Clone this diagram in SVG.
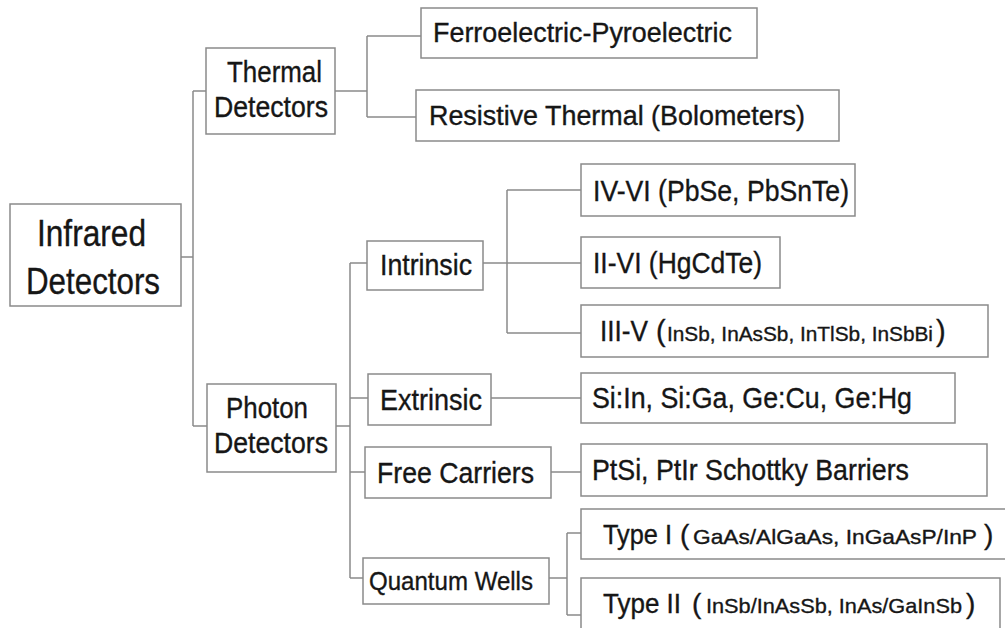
<svg xmlns="http://www.w3.org/2000/svg" width="1005" height="628" viewBox="0 0 1005 628">
<style>
.box{fill:#fff;stroke:#8a8a8a;stroke-width:1.5}
.t{font-family:"Liberation Sans",Arial,sans-serif;fill:#161616;stroke:#161616;stroke-width:0.35}
.conn{fill:none;stroke:#8a8a8a;stroke-width:1.5}
</style>
<rect width="1005" height="628" fill="#fff"/>
<g id="connectors" class="conn">
<path d="M181,257H193M193,91V426M193,91H206M193,426H207"/>
<path d="M335,91H367M367,36V117M367,36H421M367,117H416"/>
<path d="M336,426H350M350,263V578M350,263H367M350,398H368M350,472H365M350,578H363"/>
<path d="M483,263H581M507,190V333M507,190H581M507,333H581"/>
<path d="M491,398H581M551,472H581"/>
<path d="M549,578H567M567,533V615M567,533H581M567,615H581"/>
</g>
<g id="infrared">
<rect class="box" x="10" y="204" width="171" height="102"/>
<text class="t" x="37" y="246" font-size="36" textLength="109" lengthAdjust="spacingAndGlyphs">Infrared</text>
<text class="t" x="26" y="294" font-size="36" textLength="134" lengthAdjust="spacingAndGlyphs">Detectors</text>
</g>
<g id="thermal">
<rect class="box" x="206" y="48" width="129" height="86"/>
<text class="t" x="227" y="82" font-size="29" textLength="95" lengthAdjust="spacingAndGlyphs">Thermal</text>
<text class="t" x="214" y="117" font-size="29" textLength="114" lengthAdjust="spacingAndGlyphs">Detectors</text>
</g>
<g id="photon">
<rect class="box" x="207" y="384" width="129" height="88"/>
<text class="t" x="226" y="418" font-size="29" textLength="82" lengthAdjust="spacingAndGlyphs">Photon</text>
<text class="t" x="214" y="453" font-size="29" textLength="114" lengthAdjust="spacingAndGlyphs">Detectors</text>
</g>
<g id="ferro">
<rect class="box" x="421" y="8" width="336" height="50"/>
<text class="t" x="433" y="42" font-size="27" textLength="299" lengthAdjust="spacingAndGlyphs">Ferroelectric-Pyroelectric</text>
</g>
<g id="resistive">
<rect class="box" x="416" y="90" width="423" height="51"/>
<text class="t" x="429" y="125" font-size="27" textLength="376" lengthAdjust="spacingAndGlyphs">Resistive Thermal (Bolometers)</text>
</g>
<g id="intrinsic">
<rect class="box" x="367" y="241" width="116" height="49"/>
<text class="t" x="380" y="275" font-size="29" textLength="92" lengthAdjust="spacingAndGlyphs">Intrinsic</text>
</g>
<g id="iv-vi">
<rect class="box" x="581" y="164" width="274" height="52"/>
<text class="t" x="593" y="201" font-size="29" textLength="256" lengthAdjust="spacingAndGlyphs">IV-VI (PbSe, PbSnTe)</text>
</g>
<g id="ii-vi">
<rect class="box" x="581" y="237" width="199" height="51"/>
<text class="t" x="593" y="273" font-size="29" textLength="169" lengthAdjust="spacingAndGlyphs">II-VI (HgCdTe)</text>
</g>
<g id="iii-v">
<rect class="box" x="581" y="305" width="407" height="52"/>
<text class="t" x="600" y="341" font-size="29" textLength="48" lengthAdjust="spacingAndGlyphs">III-V</text>
<text class="t" x="656" y="341" font-size="29">(</text>
<text class="t" x="667" y="341" font-size="20" textLength="266" lengthAdjust="spacingAndGlyphs">InSb, InAsSb, InTlSb, InSbBi</text>
<text class="t" x="936" y="341" font-size="29">)</text>
</g>
<g id="extrinsic">
<rect class="box" x="368" y="374" width="123" height="51"/>
<text class="t" x="380" y="410" font-size="29" textLength="102" lengthAdjust="spacingAndGlyphs">Extrinsic</text>
</g>
<g id="siin">
<rect class="box" x="581" y="373" width="374" height="50"/>
<text class="t" x="592" y="408" font-size="29" textLength="320" lengthAdjust="spacingAndGlyphs">Si:In, Si:Ga, Ge:Cu, Ge:Hg</text>
</g>
<g id="free-carriers">
<rect class="box" x="365" y="447" width="186" height="51"/>
<text class="t" x="377" y="483" font-size="29" textLength="157" lengthAdjust="spacingAndGlyphs">Free Carriers</text>
</g>
<g id="ptsi">
<rect class="box" x="581" y="444" width="406" height="52"/>
<text class="t" x="592" y="480" font-size="29" textLength="317" lengthAdjust="spacingAndGlyphs">PtSi, PtIr Schottky Barriers</text>
</g>
<g id="quantum-wells">
<rect class="box" x="363" y="558" width="186" height="46"/>
<text class="t" x="369" y="590" font-size="26" textLength="164" lengthAdjust="spacingAndGlyphs">Quantum Wells</text>
</g>
<g id="type1">
<rect class="box" x="581" y="509" width="430" height="50"/>
<text class="t" x="603" y="544" font-size="28" textLength="69" lengthAdjust="spacingAndGlyphs">Type I</text>
<text class="t" x="680" y="544" font-size="28">(</text>
<text class="t" x="693" y="544" font-size="21" textLength="284" lengthAdjust="spacingAndGlyphs">GaAs/AlGaAs, InGaAsP/InP</text>
<text class="t" x="984" y="544" font-size="28">)</text>
</g>
<g id="type2">
<rect class="box" x="581" y="578" width="419" height="62"/>
<text class="t" x="603" y="613" font-size="28" textLength="78" lengthAdjust="spacingAndGlyphs">Type II</text>
<text class="t" x="692" y="613" font-size="28">(</text>
<text class="t" x="706" y="613" font-size="21" textLength="256" lengthAdjust="spacingAndGlyphs">InSb/InAsSb, InAs/GaInSb</text>
<text class="t" x="966" y="613" font-size="28">)</text>
</g>
</svg>
